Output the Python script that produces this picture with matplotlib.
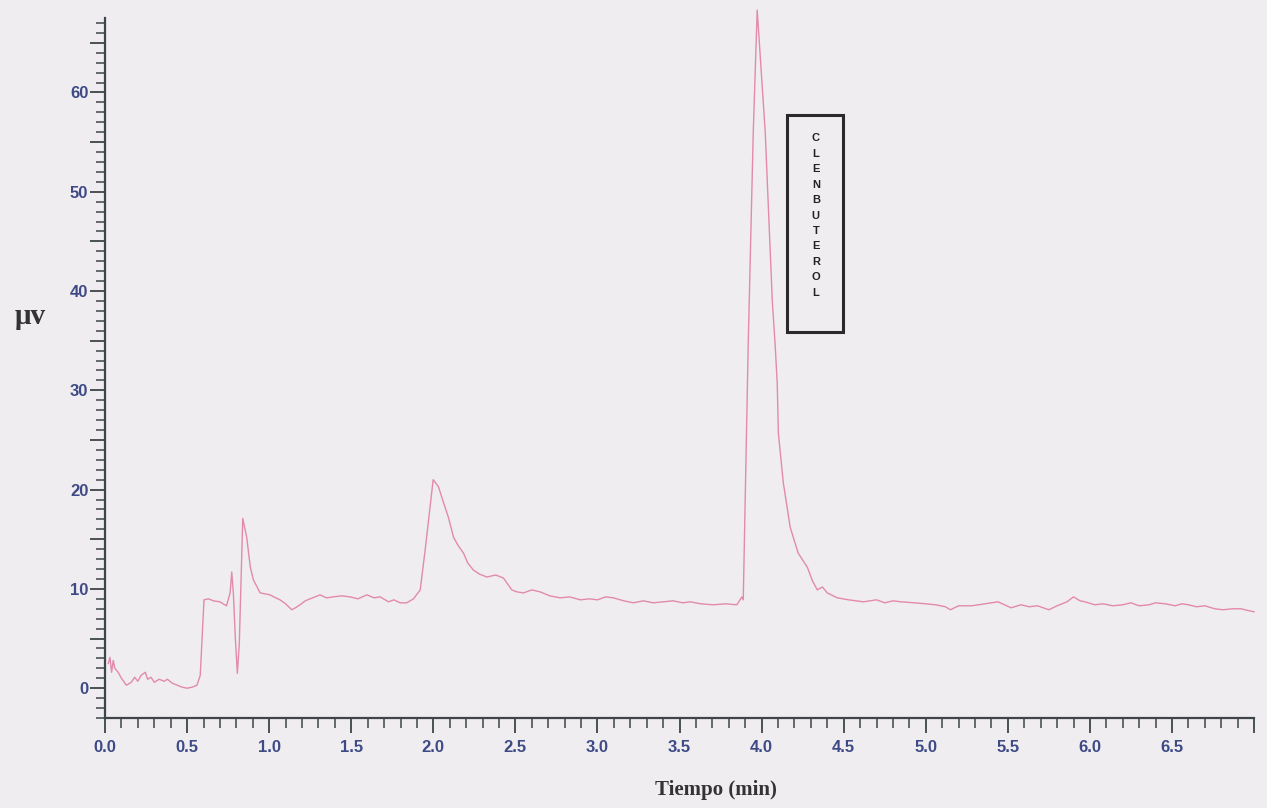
import matplotlib
matplotlib.use('Agg')
import matplotlib.pyplot as plt
from matplotlib.ticker import MultipleLocator, FuncFormatter
from matplotlib.patches import Rectangle

# chromatogram trace (time in min, signal in uV)
tiempo = [0.02, 0.03, 0.04, 0.05, 0.06, 0.08, 0.10, 0.13, 0.16, 0.18, 0.20, 0.22,
          0.245, 0.26, 0.28, 0.30, 0.33, 0.36, 0.38, 0.41, 0.44, 0.47, 0.50, 0.53,
          0.56, 0.58, 0.603, 0.63, 0.66, 0.70, 0.74, 0.762, 0.772, 0.782, 0.794,
          0.806, 0.818, 0.839, 0.863, 0.885, 0.904, 0.945, 0.975, 1.005, 1.04,
          1.066, 1.10, 1.138, 1.16, 1.188, 1.22, 1.249, 1.28, 1.31, 1.35, 1.391,
          1.44, 1.493, 1.54, 1.595, 1.64, 1.676, 1.727, 1.76, 1.798, 1.838, 1.879,
          1.92, 1.95, 1.975, 1.999, 2.031, 2.06, 2.092, 2.123, 2.15, 2.184, 2.21,
          2.244, 2.28, 2.326, 2.38, 2.427, 2.478, 2.51, 2.549, 2.60, 2.651, 2.71,
          2.773, 2.83, 2.895, 2.95, 3.00, 3.05, 3.097, 3.16, 3.219, 3.28, 3.34,
          3.402, 3.46, 3.52, 3.565, 3.63, 3.707, 3.78, 3.849, 3.88, 3.888, 3.918,
          3.949, 3.973, 4.022, 4.065, 4.083, 4.095, 4.102, 4.132, 4.174,
          4.223, 4.278, 4.31, 4.339, 4.37, 4.40, 4.461, 4.53, 4.62, 4.70, 4.75,
          4.80, 4.85, 4.93, 5.00, 5.06, 5.12, 5.15, 5.20, 5.28, 5.36, 5.44, 5.48,
          5.52, 5.58, 5.63, 5.68, 5.75, 5.80, 5.86, 5.90, 5.94, 5.97, 6.03, 6.08,
          6.14, 6.20, 6.25, 6.30, 6.36, 6.40, 6.46, 6.52, 6.56, 6.60, 6.65, 6.70,
          6.76, 6.81, 6.87, 6.92, 6.97, 7.00]
senal = [2.5, 3.1, 1.6, 2.8, 2.0, 1.6, 1.0, 0.3, 0.6, 1.1, 0.7, 1.3,
         1.6, 0.9, 1.1, 0.6, 0.9, 0.7, 0.9, 0.5, 0.3, 0.1, 0.0, 0.1,
         0.3, 1.3, 8.9, 9.0, 8.8, 8.7, 8.3, 9.6, 11.7, 9.5, 5.0,
         1.5, 4.5, 17.1, 15.2, 12.2, 10.9, 9.6, 9.5, 9.4, 9.1,
         8.9, 8.5, 7.9, 8.1, 8.4, 8.8, 9.0, 9.2, 9.4, 9.1, 9.2,
         9.3, 9.2, 9.0, 9.4, 9.1, 9.2, 8.7, 8.9, 8.6, 8.6, 9.0,
         9.9, 13.9, 17.5, 21.0, 20.3, 18.8, 17.2, 15.2, 14.4, 13.6, 12.6,
         11.9, 11.5, 11.2, 11.4, 11.1, 9.9, 9.7, 9.6, 9.9, 9.7, 9.3,
         9.1, 9.2, 8.9, 9.0, 8.9, 9.2, 9.1, 8.8, 8.6, 8.8, 8.6,
         8.7, 8.8, 8.6, 8.7, 8.5, 8.4, 8.5, 8.4, 9.2, 8.9, 34.4,
         56.0, 68.3, 56.0, 39.0, 34.4, 30.7, 25.7, 20.7, 16.2,
         13.6, 12.2, 10.8, 9.9, 10.2, 9.6, 9.1, 8.9, 8.7, 8.9, 8.6,
         8.8, 8.7, 8.6, 8.5, 8.4, 8.2, 7.9, 8.3, 8.3, 8.5, 8.7, 8.4,
         8.1, 8.4, 8.2, 8.3, 7.9, 8.3, 8.7, 9.2, 8.8, 8.7, 8.4, 8.5,
         8.3, 8.4, 8.6, 8.3, 8.4, 8.6, 8.5, 8.3, 8.5, 8.4, 8.2, 8.3,
         8.0, 7.9, 8.0, 8.0, 7.8, 7.7]

pico = 'CLENBUTEROL'

fondo = '#f0edf1'
eje = '#3d4548'
azul = '#3d4a85'

fig = plt.figure(figsize=(12.67, 8.08), dpi=100, facecolor=fondo)
ax = fig.add_axes([0.0829, 0.1114, 0.9069, 0.8663])
ax.set_facecolor(fondo)

ax.plot(tiempo, senal, color='#e28aa8', linewidth=1.0, clip_on=False)

ax.set_xlim(0, 7.0)
ax.set_ylim(-3, 67.5)

for s in ['top', 'right']:
    ax.spines[s].set_visible(False)
for s in ['left', 'bottom']:
    ax.spines[s].set_color(eje)
    ax.spines[s].set_linewidth(1.6)

ax.xaxis.set_major_locator(MultipleLocator(0.5))
ax.xaxis.set_minor_locator(MultipleLocator(0.1))
ax.yaxis.set_major_locator(MultipleLocator(5))
ax.yaxis.set_minor_locator(MultipleLocator(1))
ax.xaxis.set_major_formatter(FuncFormatter(lambda v, p: '' if v > 6.9 else '%.1f' % v))
ax.yaxis.set_major_formatter(FuncFormatter(lambda v, p: '%d' % v if round(v) % 10 == 0 else ''))

ax.tick_params(which='major', length=11, width=1.3, color=eje)
ax.tick_params(which='minor', length=6.5, width=1.1, color=eje)
ax.tick_params(axis='x', which='minor', length=7)
ax.tick_params(axis='x', which='major', pad=5)
ax.tick_params(axis='y', which='major', pad=1)
for lab in ax.get_xticklabels() + ax.get_yticklabels():
    lab.set_fontfamily('Liberation Sans')
    lab.set_fontweight('bold')
    lab.set_fontsize(12)
    lab.set_color(azul)

# peak label box
ax.add_patch(Rectangle((4.156, 35.9), 0.341, 21.8, fill=False,
                       edgecolor='#2a2a2a', linewidth=2.2, zorder=3))
ax.text(4.33, 47.6, '\n'.join(pico), ha='center', va='center',
        fontsize=8, fontweight='bold', family='Liberation Sans',
        linespacing=1.68, color='#222222')

fig.text(30 / 1267, 1 - 317 / 808, 'μv', ha='center', va='center',
         fontsize=21, fontweight='bold', family='Liberation Serif', color='#333333')
fig.text(716 / 1267, 1 - 790 / 808, 'Tiempo (min)', ha='center', va='center',
         fontsize=15, fontweight='bold', family='Liberation Serif', color='#333333')

fig.savefig('out.png', dpi=100, facecolor=fondo)
